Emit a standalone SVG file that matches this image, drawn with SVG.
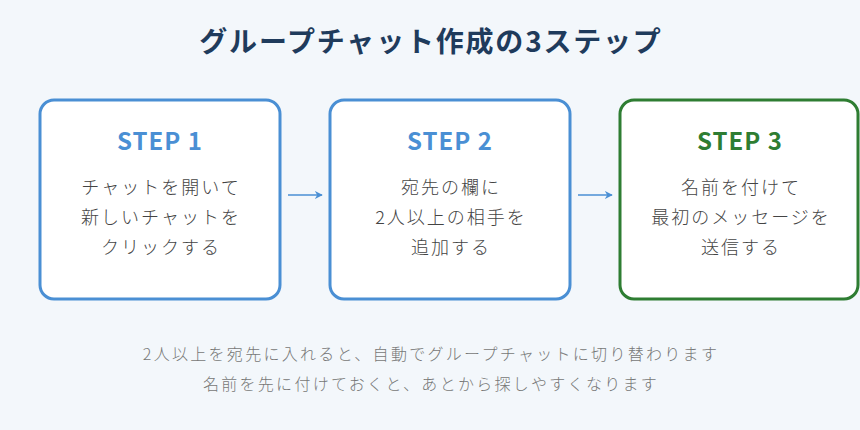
<svg xmlns="http://www.w3.org/2000/svg" width="860" height="430" viewBox="0 0 860 430">
<defs>
<marker id="arr" viewBox="0 0 10 10" refX="9" refY="5" markerWidth="8" markerHeight="8" orient="auto" markerUnits="userSpaceOnUse">
<path d="M0,0 L10,5 L0,10 L3,5 Z" fill="#4a8fd4"/>
</marker>
</defs>
<style>
text{font-family:"Noto Sans CJK JP","Noto Sans",sans-serif;text-anchor:middle}
.title{font-size:28px;font-weight:700;fill:#1f3b5c;letter-spacing:1.8px}
.box{fill:#ffffff;stroke-width:3}
.blue{stroke:#4a8fd4}
.green{stroke:#2e7d32}
.step{font-size:24px;font-weight:700;letter-spacing:1px}
.sb{fill:#4a8fd4}
.sg{fill:#2e7d32}
.body{font-size:18px;font-weight:300;fill:#444444;letter-spacing:2px}
.note{font-size:16px;font-weight:300;fill:#777777;letter-spacing:2.3px}
.conn{stroke:#4a8fd4;stroke-width:1.5;fill:none}
</style>
<rect width="860" height="430" fill="#f3f7fb"/>
<text class="title" x="431" y="52">グループチャット作成の3ステップ</text>
<g id="step1">
<rect class="box blue" x="40" y="100" width="240" height="199" rx="14"/>
<text class="step sb" x="160" y="150">STEP 1</text>
<text class="body" x="161" y="194">チャットを開いて</text>
<text class="body" x="161" y="224">新しいチャットを</text>
<text class="body" x="161" y="254">クリックする</text>
</g>
<g id="step2">
<rect class="box blue" x="330" y="100" width="240" height="199" rx="14"/>
<text class="step sb" x="450" y="150">STEP 2</text>
<text class="body" x="451" y="194">宛先の欄に</text>
<text class="body" x="451" y="224">2人以上の相手を</text>
<text class="body" x="451" y="254">追加する</text>
</g>
<g id="step3">
<rect class="box green" x="620" y="100" width="238" height="199" rx="14"/>
<text class="step sg" x="740" y="150">STEP 3</text>
<text class="body" x="741" y="194">名前を付けて</text>
<text class="body" x="741" y="224">最初のメッセージを</text>
<text class="body" x="741" y="254">送信する</text>
</g>
<g id="connectors">
<line class="conn" x1="288" y1="195" x2="322" y2="195" marker-end="url(#arr)"/>
<line class="conn" x1="578" y1="195" x2="612" y2="195" marker-end="url(#arr)"/>
</g>
<text class="note" x="431" y="360">2人以上を宛先に入れると、自動でグループチャットに切り替わります</text>
<text class="note" x="431" y="390">名前を先に付けておくと、あとから探しやすくなります</text>
</svg>
